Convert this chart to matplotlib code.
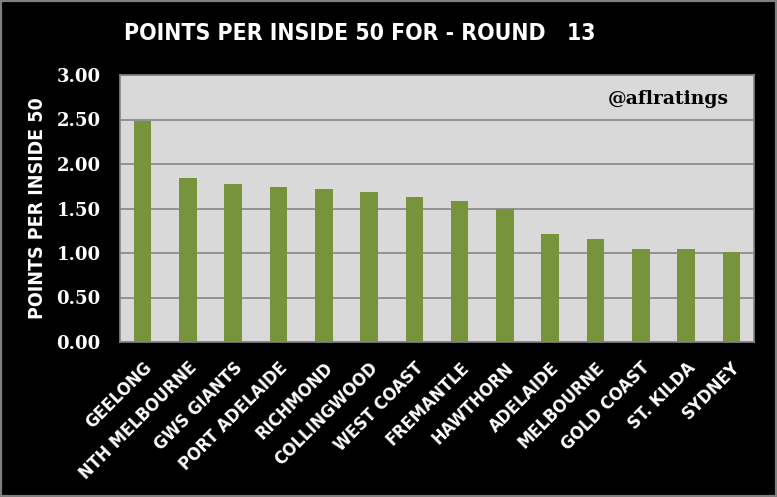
import matplotlib
matplotlib.use("Agg")
import matplotlib.pyplot as plt
from matplotlib.patches import Rectangle

teams = ["GEELONG", "NTH MELBOURNE", "GWS GIANTS", "PORT ADELAIDE", "RICHMOND",
         "COLLINGWOOD", "WEST COAST", "FREMANTLE", "HAWTHORN", "ADELAIDE",
         "MELBOURNE", "GOLD COAST", "ST. KILDA", "SYDNEY"]
points_per_i50 = [2.48, 1.84, 1.77, 1.74, 1.72, 1.69, 1.63, 1.58, 1.50,
                  1.21, 1.16, 1.05, 1.04, 1.01]
yticks = [0.0, 0.5, 1.0, 1.5, 2.0, 2.5, 3.0]

sans = dict(fontfamily="DejaVu Sans", fontstretch="condensed", fontweight="bold")

fig = plt.figure(figsize=(7.77, 4.97), dpi=100, facecolor="black")
ax = fig.add_axes([120 / 777, 1 - 342 / 497, (754 - 120) / 777, (342 - 75) / 497])
ax.set_facecolor("#d9d9d9")

x = range(len(teams))
ax.bar(x, points_per_i50, width=0.39, color="#77933c", zorder=3)
ax.set_xlim(-0.5, len(teams) - 0.5)
ax.set_ylim(0, 3)
ax.set_yticks(yticks)
ax.set_yticklabels([f"{v:.2f}" for v in yticks], color="white",
                   fontfamily="DejaVu Serif", fontweight="bold", fontsize=13)
ax.yaxis.grid(True, color="#868686", linewidth=1.2, zorder=1)
ax.tick_params(axis="both", length=0)
ax.tick_params(axis="y", pad=14)
ax.tick_params(axis="x", pad=12)
ax.set_xticks(list(x))
ax.set_xticklabels(teams, rotation=45, ha="right", rotation_mode="anchor",
                   color="white", fontsize=13, **sans)
for s in ax.spines.values():
    s.set_color("#868686")
    s.set_linewidth(1.2)

ax.set_ylabel("POINTS PER INSIDE 50", color="white", fontsize=14, **sans)
ax.yaxis.set_label_coords(-0.115, 0.5)

ax.text(0.96, 0.91, "@aflratings", transform=ax.transAxes, ha="right", va="center",
        fontfamily="DejaVu Serif", fontweight="bold", fontsize=13.5, color="black")

fig.text(360 / 777, 1 - 34 / 497, "POINTS PER INSIDE 50 FOR - ROUND   13",
         ha="center", va="center", color="white", fontsize=16.5, **sans)

fig.patches.append(Rectangle((0, 0), 1, 1, transform=fig.transFigure,
                             fill=False, edgecolor="#808080", linewidth=3))

fig.savefig("out.png", dpi=100, facecolor="black")
